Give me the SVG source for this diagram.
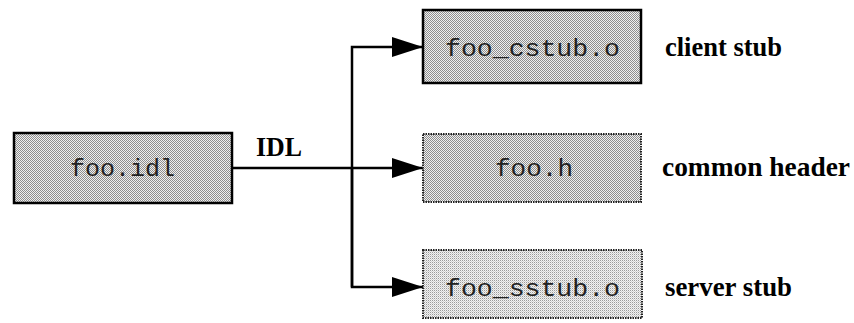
<svg xmlns="http://www.w3.org/2000/svg" width="854" height="323" viewBox="0 0 854 323">
  <defs>
    <!-- halftone fills -->
    <pattern id="dots" width="2" height="2" patternUnits="userSpaceOnUse">
      <rect width="2" height="2" fill="#f0f0f0"/>
      <rect x="0" y="0" width="1" height="1" fill="#8e8e8e"/>
      <rect x="1" y="1" width="1" height="1" fill="#8e8e8e"/>
    </pattern>
    <pattern id="dots-light" width="2" height="2" patternUnits="userSpaceOnUse">
      <rect width="2" height="2" fill="#f2f2f2"/>
      <rect x="0" y="0" width="1" height="1" fill="#9a9a9a"/>
      <rect x="1" y="1" width="1" height="1" fill="#d0d0d0"/>
    </pattern>
    <marker id="arrow" viewBox="0 0 31 20" refX="31" refY="10" markerWidth="31" markerHeight="20" markerUnits="userSpaceOnUse" orient="auto">
      <path d="M0,0 L31,10 L0,20 Z" fill="#000"/>
    </marker>
  </defs>
  <style>
    .box { fill: url(#dots); stroke: #000; stroke-width: 2.5; }
    .box-dotted { fill: url(#dots); stroke: #222; stroke-width: 2; stroke-dasharray: 1.5 1; }
    .box-light { fill: url(#dots-light); stroke: #222; stroke-width: 2; stroke-dasharray: 1.5 1; }
    .file { font-family: "Liberation Mono", "Courier New", monospace; font-size: 23px; fill: #222; }
    .label { font-family: "Liberation Serif", "Times New Roman", serif; font-weight: bold; font-size: 27px; fill: #000; }
    .wire { fill: none; stroke: #000; stroke-width: 2.5; }
  </style>

  <!-- connectors -->
  <g id="connectors">
    <line class="wire" x1="233" y1="168" x2="423" y2="168" marker-end="url(#arrow)"/>
    <path class="wire" d="M352,287 L352,47 L423,47" marker-end="url(#arrow)"/>
    <path class="wire" d="M352,168 L352,287 L423,287" marker-end="url(#arrow)"/>
    <text class="label" x="256" y="156" font-size="24" textLength="46" lengthAdjust="spacingAndGlyphs">IDL</text>
  </g>

  <!-- source file -->
  <g id="node-foo-idl">
    <rect class="box" x="14" y="133" width="218" height="70" stroke-width="3"/>
    <text class="file" x="70" y="176" textLength="105" lengthAdjust="spacingAndGlyphs">foo.idl</text>
  </g>

  <!-- generated outputs -->
  <g id="node-foo-cstub">
    <rect class="box" x="423" y="10" width="218" height="73"/>
    <text class="file" x="445" y="56" textLength="175" lengthAdjust="spacingAndGlyphs">foo_cstub.o</text>
    <text class="label" x="665" y="56" textLength="117" lengthAdjust="spacingAndGlyphs">client stub</text>
  </g>

  <g id="node-foo-h">
    <rect class="box-dotted" x="423" y="134" width="218" height="68"/>
    <text class="file" x="495" y="176" textLength="78" lengthAdjust="spacingAndGlyphs">foo.h</text>
    <text class="label" x="662" y="176" textLength="188" lengthAdjust="spacingAndGlyphs">common header</text>
  </g>

  <g id="node-foo-sstub">
    <rect class="box-light" x="423" y="250" width="219" height="68"/>
    <text class="file" x="445" y="296" textLength="175" lengthAdjust="spacingAndGlyphs">foo_sstub.o</text>
    <text class="label" x="665" y="296" textLength="127" lengthAdjust="spacingAndGlyphs">server stub</text>
  </g>
</svg>
